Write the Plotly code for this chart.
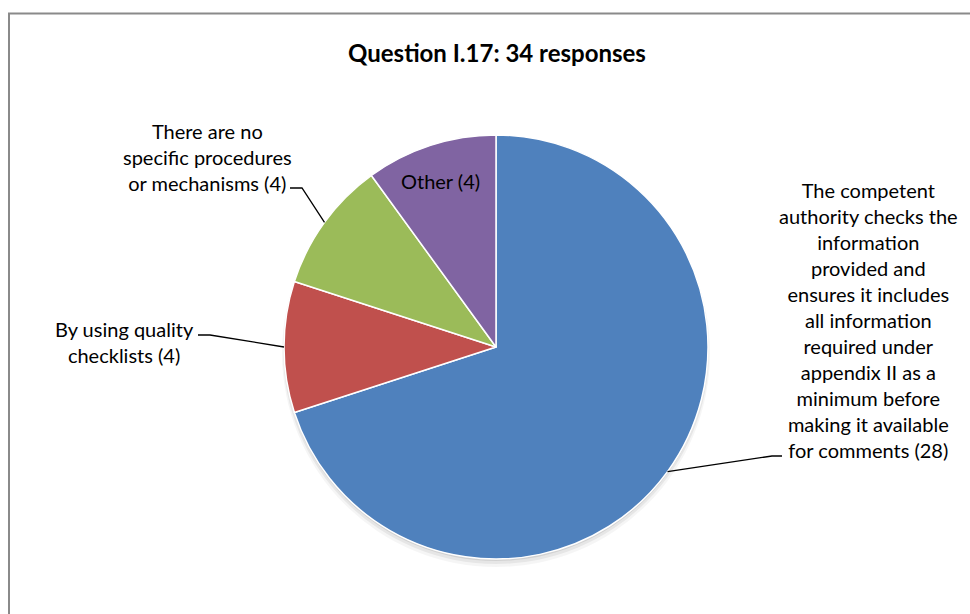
import math
import plotly.graph_objects as go

# ---- data ----
title_text = "Question I.17: 34 responses"
categories = [
    "The competent authority checks the information provided and ensures it includes all information required under appendix II as a minimum before making it available for comments",
    "By using quality checklists",
    "There are no specific procedures or mechanisms",
    "Other",
]
values = [28, 4, 4, 4]
label_texts = [
    "The competent<br>authority checks the<br>information<br>provided and<br>ensures it includes<br>all information<br>required under<br>appendix II as a<br>minimum before<br>making it available<br>for comments (28)",
    "By using quality<br>checklists (4)",
    "There are no<br>specific procedures<br>or mechanisms (4)",
    "Other (4)",
]
colors = ["#4F81BD", "#C0504D", "#9BBB59", "#8064A2"]

# ---- layout constants (pixels) ----
W, H = 970, 614
CX, CY, R = 496, 347, 212
FONT = "Lato"

def px(x):
    return x / W

def py(y):
    return 1 - y / H

fig = go.Figure()
fig.add_trace(go.Pie(
    labels=categories,
    values=values,
    sort=False,
    direction="clockwise",
    rotation=0,
    marker=dict(colors=colors, line=dict(color="white", width=1.5)),
    textinfo="none",
    hoverinfo="label+value",
    showlegend=False,
    domain=dict(x=[px(CX - R), px(CX + R)], y=[py(CY + R), py(CY - R)]),
))

# mid-angles from data (clockwise from 12 o'clock)
total = sum(values)
mids = []
acc = 0
for v in values:
    mids.append((acc + v / 2) / total * 2 * math.pi)
    acc += v

def edge_point(i):
    a = mids[i]
    return CX + R * math.sin(a), CY - R * math.cos(a)

shapes = []
# soft shadow under the pie
for dy, grow, op in [(6, 2, 0.04), (4, 1, 0.06), (2, 0, 0.09)]:
    shapes.append(dict(type="circle", xref="paper", yref="paper",
                       x0=px(CX - R - grow), x1=px(CX + R + grow),
                       y0=py(CY + R + dy + grow), y1=py(CY - R + dy - grow),
                       fillcolor=f"rgba(0,0,0,{op})", line=dict(width=0), layer="below"))

# outer frame
shapes.append(dict(type="rect", xref="paper", yref="paper",
                   x0=px(9), x1=px(W + 10), y0=py(H + 10), y1=py(13.5),
                   line=dict(color="#8a8a8a", width=2), fillcolor="rgba(0,0,0,0)", layer="below"))

# leader lines: (slice index, elbow, end)
leaders = [
    (0, (772, 456), (782, 456)),
    (1, (210, 335), (198, 335)),
    (2, (302, 188), (290, 188)),
]
for i, (ex, ey), (tx, ty) in leaders:
    sx, sy = edge_point(i)
    path = f"M {px(sx)} {py(sy)} L {px(ex)} {py(ey)} L {px(tx)} {py(ty)}"
    shapes.append(dict(type="path", xref="paper", yref="paper", path=path,
                       line=dict(color="black", width=1.3)))

# label annotations: (slice index, center x, center y)
label_pos = [(0, 868, 320), (1, 125, 342), (2, 207, 157), (3, 440, 181)]
annotations = []
for i, lx, ly in label_pos:
    annotations.append(dict(text=label_texts[i], x=px(lx), y=py(ly), xref="paper", yref="paper",
                            showarrow=False, xanchor="center", yanchor="middle", align="center",
                            font=dict(family=FONT, size=20, color="black")))

annotations.append(dict(text="<b>" + title_text + "</b>", x=px(497), y=py(52), xref="paper", yref="paper",
                        showarrow=False, xanchor="center", yanchor="middle",
                        font=dict(family=FONT, size=24, color="black")))

fig.update_layout(
    width=W, height=H,
    margin=dict(l=0, r=0, t=0, b=0),
    paper_bgcolor="white", plot_bgcolor="white",
    shapes=shapes, annotations=annotations,
)
fig.write_html("out.html", config={"displayModeBar": False},
               post_script="document.body.style.margin='0px';")
